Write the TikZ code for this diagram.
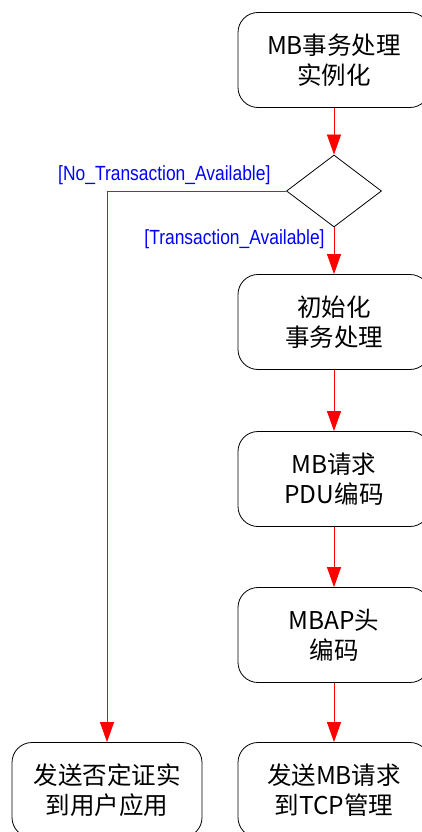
\documentclass[tikz,border=0pt]{standalone}
\usepackage{fontspec}
\newfontfamily\cjk{Noto Sans CJK SC}
\newfontfamily\labfont[FakeStretch=0.85]{Liberation Sans}
\usetikzlibrary{arrows.meta,shapes.geometric}

\begin{document}
\begin{tikzpicture}[x=1pt, y=-1pt,
  box/.style={draw, rounded corners=20pt, minimum width=192pt, minimum height=95pt, align=center, font=\cjk\fontsize{24.5}{30}\selectfont, line width=0.8pt},
  choice/.style={draw, diamond, minimum width=95pt, minimum height=72pt, inner sep=0pt, line width=0.8pt},
  flow/.style={-{Triangle[length=20pt,width=14pt]}, red, line width=0.8pt},
  lab/.style={font=\labfont\fontsize{20.5}{22}\selectfont, text=blue, inner sep=1pt}
]
\useasboundingbox (0,0) rectangle (422,832);

\node[box] (inst) at (334,60) {MB事务处理\\实例化};
\node[choice] (dec) at (334,191) {};
\node[box] (init) at (334,322) {初始化\\事务处理};
\node[box] (pdu) at (334,479) {MB请求\\PDU编码};
\node[box] (mbap) at (334,635) {MBAP头\\编码};
\node[box] (send) at (334,790) {发送MB请求\\到TCP管理};
\node[box, minimum width=190pt] (neg) at (107,790) {发送否定证实\\到用户应用};

\draw[flow] (inst) -- (dec);
\draw[flow] (dec.south) -- node[lab, pos=0.25, anchor=east, xshift=-8pt]{[Transaction\_Available]} (init);
\draw[flow] (init) -- (pdu);
\draw[flow] (pdu) -- (mbap);
\draw[flow] (mbap) -- (send);
\draw[flow] (dec.west) -| node[lab, pos=0.34, above=5pt]{[No\_Transaction\_Available]} (neg);
\end{tikzpicture}
\end{document}
